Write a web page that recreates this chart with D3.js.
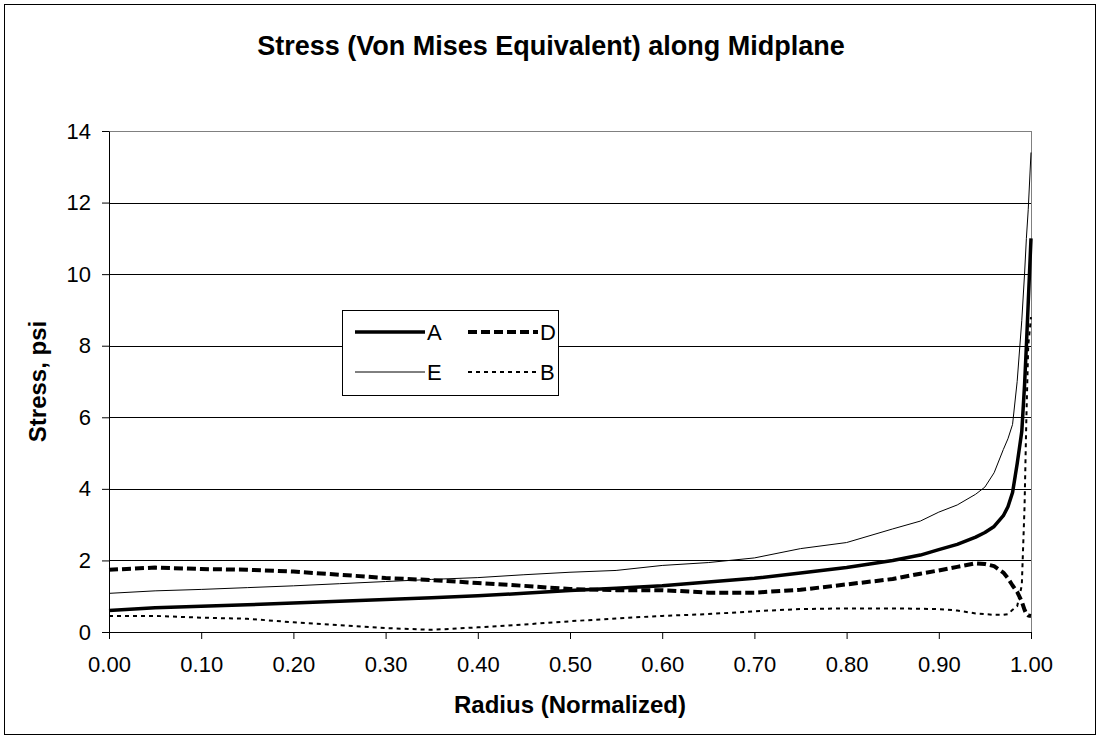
<!DOCTYPE html>
<html>
<head>
<meta charset="utf-8">
<script src="https://cdn.jsdelivr.net/npm/d3@7"></script>
<style>
  body { margin: 0; background: #fff; }
  text { font-family: "Liberation Sans", Arial, sans-serif; }
</style>
</head>
<body>
<div id="chart"></div>
<script>
// data
const radius = [0, 0.05, 0.10, 0.15, 0.20, 0.25, 0.30, 0.35, 0.40, 0.45, 0.50, 0.55, 0.60, 0.65, 0.70, 0.75, 0.80, 0.85, 0.88, 0.90, 0.92, 0.94, 0.95, 0.96, 0.97, 0.975, 0.98, 0.985, 0.99, 0.993, 0.995, 0.997, 1.00]
const stressA = [0.60, 0.68, 0.72, 0.76, 0.81, 0.86, 0.91, 0.96, 1.01, 1.08, 1.16, 1.22, 1.29, 1.40, 1.50, 1.65, 1.80, 2.00, 2.15, 2.30, 2.45, 2.65, 2.78, 2.95, 3.25, 3.50, 3.90, 4.70, 5.60, 6.90, 8.00, 9.20, 11.0]
const stressD = [1.74, 1.80, 1.76, 1.74, 1.69, 1.60, 1.51, 1.45, 1.37, 1.29, 1.20, 1.17, 1.17, 1.10, 1.10, 1.18, 1.33, 1.48, 1.63, 1.72, 1.82, 1.92, 1.90, 1.84, 1.66, 1.50, 1.30, 1.12, 0.85, 0.62, 0.50, 0.46, 0.45]
const stressE = [1.08, 1.15, 1.19, 1.24, 1.29, 1.35, 1.41, 1.47, 1.52, 1.60, 1.67, 1.72, 1.86, 1.94, 2.07, 2.33, 2.50, 2.88, 3.10, 3.35, 3.55, 3.85, 4.05, 4.45, 5.10, 5.40, 5.80, 7.00, 8.70, 10.0, 11.0, 11.8, 13.4]
const stressB = [0.45, 0.45, 0.40, 0.37, 0.27, 0.19, 0.11, 0.06, 0.13, 0.21, 0.30, 0.38, 0.45, 0.50, 0.58, 0.64, 0.66, 0.66, 0.65, 0.64, 0.60, 0.52, 0.50, 0.48, 0.48, 0.50, 0.62, 0.72, 1.30, 3.50, 6.00, 8.00, 8.80]
const xTicks = [0, 0.1, 0.2, 0.3, 0.4, 0.5, 0.6, 0.7, 0.8, 0.9, 1.0]
const yTicks = [0, 2, 4, 6, 8, 10, 12, 14]

const series = [
  { name: "A", values: stressA, width: 3.5, dash: null },
  { name: "D", values: stressD, width: 4, dash: "9,4" },
  { name: "E", values: stressE, width: 1, dash: null },
  { name: "B", values: stressB, width: 2, dash: "4,4" }
]

// props
const width = 1100
const height = 738
const margin = { top: 131, right: 69, bottom: 106, left: 109 }
const plotW = width - margin.left - margin.right
const plotH = height - margin.top - margin.bottom

const svg = d3.select("#chart")
  .append("svg")
  .attr("width", width)
  .attr("height", height)

// outer frame
svg.append("rect")
  .attr("x", 4.5)
  .attr("y", 4.5)
  .attr("width", width - 9)
  .attr("height", height - 8)
  .attr("fill", "#fff")
  .attr("stroke", "#000")
  .attr("stroke-width", 1)

svg.append("text")
  .attr("x", 551)
  .attr("y", 55)
  .attr("text-anchor", "middle")
  .attr("font-size", 27)
  .attr("font-weight", "bold")
  .text("Stress (Von Mises Equivalent) along Midplane")

const g = svg.append("g")
  .attr("transform", `translate(${margin.left}, ${margin.top})`)

const x = d3.scaleLinear().domain([0, 1]).range([0, plotW])
const y = d3.scaleLinear().domain([0, 14]).range([plotH, 0])

// gridlines
g.selectAll("line.grid")
  .data(yTicks.slice(1))
  .enter()
  .append("line")
  .attr("class", "grid")
  .attr("x1", 0)
  .attr("x2", plotW)
  .attr("y1", d => Math.round(y(d)) + 0.5)
  .attr("y2", d => Math.round(y(d)) + 0.5)
  .attr("stroke", d => d === 14 ? "#808080" : "#000")

// right border of plot area
g.append("line")
  .attr("x1", plotW + 0.5)
  .attr("x2", plotW + 0.5)
  .attr("y1", 0)
  .attr("y2", plotH)
  .attr("stroke", "#808080")

// axes
const xAxis = g.append("g")
  .attr("transform", `translate(0, ${plotH})`)
  .call(d3.axisBottom(x).tickValues(xTicks).tickFormat(d3.format(".2f")).tickSize(7).tickPadding(17).tickSizeOuter(0))

const yAxis = g.append("g")
  .call(d3.axisLeft(y).tickValues(yTicks).tickSize(7).tickPadding(11).tickSizeOuter(0))

;[xAxis, yAxis].forEach(ax => {
  ax.selectAll("text").attr("font-size", 22).attr("font-family", "Liberation Sans, Arial, sans-serif").attr("fill", "#000")
  ax.selectAll("line").attr("stroke", "#000")
  ax.select(".domain").attr("stroke", "#000")
})

// labels
svg.append("text")
  .attr("x", margin.left + plotW / 2)
  .attr("y", 713)
  .attr("text-anchor", "middle")
  .attr("font-size", 24)
  .attr("font-weight", "bold")
  .text("Radius (Normalized)")

svg.append("text")
  .attr("transform", `translate(46, ${margin.top + plotH / 2}) rotate(-90)`)
  .attr("text-anchor", "middle")
  .attr("font-size", 24)
  .attr("font-weight", "bold")
  .text("Stress, psi")

// lines
const line = d3.line()
  .x((d, i) => x(radius[i]))
  .y(d => y(d))

g.selectAll("path.series")
  .data(series)
  .enter()
  .append("path")
  .attr("class", "series")
  .attr("d", d => line(d.values))
  .attr("fill", "none")
  .attr("stroke", "#000")
  .attr("stroke-width", d => d.width)
  .attr("stroke-dasharray", d => d.dash)
  .attr("stroke-linejoin", "round")

// legend
const legend = svg.append("g")
  .attr("transform", "translate(342, 310)")

legend.append("rect")
  .attr("x", 0.5)
  .attr("y", 0.5)
  .attr("width", 216)
  .attr("height", 85)
  .attr("fill", "#fff")
  .attr("stroke", "#000")

const items = legend.selectAll("g.item")
  .data(series)
  .enter()
  .append("g")
  .attr("class", "item")
  .attr("transform", (d, i) => `translate(${i % 2 === 0 ? 13 : 126}, ${i < 2 ? 22 : 62})`)

items.append("line")
  .attr("x1", 0)
  .attr("x2", 70)
  .attr("stroke", "#000")
  .attr("stroke-width", d => d.width)
  .attr("stroke-dasharray", d => d.dash)

items.append("text")
  .attr("x", 72)
  .attr("dy", "0.36em")
  .attr("font-size", 22)
  .text(d => d.name)
</script>
</body>
</html>
